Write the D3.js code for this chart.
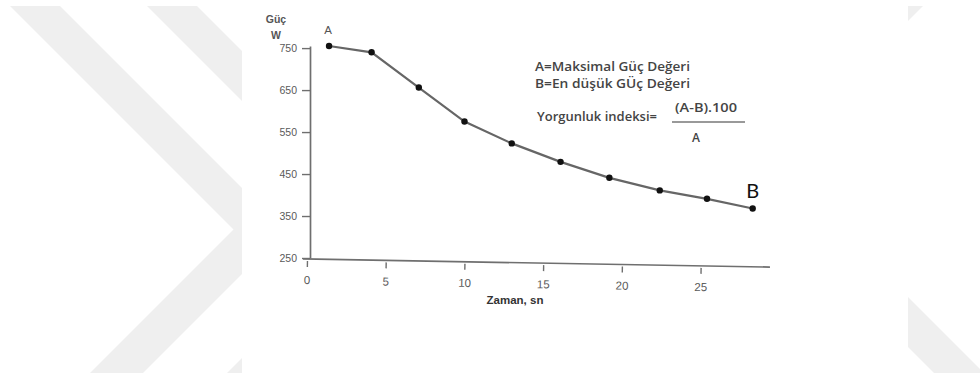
<!DOCTYPE html>
<html>
<head>
<meta charset="utf-8">
<script src="https://cdn.jsdelivr.net/npm/d3@7"></script>
<style>
  html, body { margin: 0; padding: 0; background: #fff; }
  svg { display: block; }
</style>
</head>
<body>
<svg id="chart" width="980" height="379"></svg>
<script>
// ---- data ----
const times = [1.4, 4.1, 7.1, 10.0, 13.0, 16.1, 19.2, 22.4, 25.4, 28.3];   // Zaman, sn
const power = [755, 740, 656, 575, 523, 479, 441, 411, 391, 368];          // Güç, W
const xTicks = [0, 5, 10, 15, 20, 25];
const yTicks = [250, 350, 450, 550, 650, 750];
const yAxisLabel = ["Güç", "W"];
const xAxisLabel = "Zaman, sn";
const noteLines = ["A=Maksimal Güç Değeri", "B=En düşük GÜç Değeri"];
const formulaLabel = "Yorgunluk indeksi=";
const formulaNum = "(A-B).100";
const formulaDen = "A";

const svg = d3.select("#chart");

// ---- background watermark chevrons ----
const wm = "#efefef";
const bgPolys = [
  [[10,6],[60,6],[285,231],[143,373],[90,373],[233.5,229.5]],
  [[147,6],[197,6],[420.5,229.5],[277,373],[227,373],[370.5,229.5]],
  [[908,6],[923,6],[908,21]],
  [[908,297],[980,369],[980,373],[934,373],[908,347]]
];
svg.selectAll("polygon.wm").data(bgPolys).join("polygon")
  .attr("class","wm")
  .attr("points", d => d.map(p => p.join(",")).join(" "))
  .attr("fill", wm);

// white picture area
svg.append("rect").attr("x",242).attr("y",0).attr("width",666).attr("height",379).attr("fill","#fff");

// ---- scales ----
const x = d3.scaleLinear().domain([0, 29.4]).range([307, 770]);
const y = d3.scaleLinear().domain([250, 755]).range([258, 46]);
const yAxisX = 310;

const tickFont = "'Liberation Sans', Arial, sans-serif";

// y axis
const gy = svg.append("g").attr("transform", `translate(${yAxisX},0)`)
  .call(d3.axisLeft(y).tickValues(yTicks).tickSize(8).tickSizeOuter(0).tickPadding(5).tickFormat(d3.format("d")));
gy.select(".domain").attr("stroke","#6f6f6f").attr("stroke-width",1.7);
gy.selectAll(".tick line").attr("stroke","#6f6f6f").attr("stroke-width",1.4);
gy.selectAll(".tick text").attr("fill","#5a5a5a").style("font-family",tickFont).style("font-size","10.5px");

// x axis (slightly tilted like the scanned original)
const gx = svg.append("g").attr("transform", `translate(0,259) rotate(1,${x(0)},0)`)
  .call(d3.axisBottom(x).tickValues(xTicks).tickSize(8).tickSizeOuter(0).tickPadding(9).tickFormat(d3.format("d")));
gx.select(".domain").attr("stroke","#6f6f6f").attr("stroke-width",1.7)
  .attr("d", `M${x(0)-4},0H${x(29.4)}`);
gx.selectAll(".tick line").attr("stroke","#6f6f6f").attr("stroke-width",1.4).attr("y1",2);
gx.selectAll(".tick text").attr("fill","#5a5a5a").style("font-family",tickFont).style("font-size","11.5px");

// axis titles
svg.append("text").attr("x",276).attr("y",23).attr("text-anchor","middle")
  .attr("fill","#555").style("font-family",tickFont).style("font-size","10.5px").style("font-weight","bold")
  .text(yAxisLabel[0]);
svg.append("text").attr("x",276).attr("y",39).attr("text-anchor","middle")
  .attr("fill","#555").style("font-family",tickFont).style("font-size","10.5px").style("font-weight","bold")
  .text(yAxisLabel[1]);
svg.append("text").attr("x",515).attr("y",304).attr("text-anchor","middle")
  .attr("fill","#333").style("font-family",tickFont).style("font-size","11.5px").style("font-weight","bold")
  .text(xAxisLabel);

// ---- line + points ----
const pts = times.map((t,i) => ({t, p: power[i]}));
svg.append("path").datum(pts)
  .attr("fill","none").attr("stroke","#666").attr("stroke-width",2.2)
  .attr("d", d3.line().x(d => x(d.t)).y(d => y(d.p)));
svg.selectAll("circle.pt").data(pts).join("circle")
  .attr("class","pt")
  .attr("cx", d => x(d.t)).attr("cy", d => y(d.p)).attr("r", 3.2)
  .attr("fill","#111");

// point labels
svg.append("text").attr("x", x(times[0])-1).attr("y", 34).attr("text-anchor","middle")
  .attr("fill","#555").style("font-family",tickFont).style("font-size","11.5px")
  .text("A");
svg.append("text").attr("x", x(times[times.length-1])).attr("y", 198).attr("text-anchor","middle")
  .attr("fill","#111").style("font-family","Lato, 'Open Sans', sans-serif").style("font-size","20px")
  .text("B");

// ---- annotation ----
const noteFont = "'Open Sans', Lato, sans-serif";
const noteWidths = [155, 155];
svg.selectAll("text.note").data(noteLines).join("text")
  .attr("class","note")
  .attr("x",535).attr("y",(d,i) => 71 + i*17)
  .attr("textLength",(d,i) => noteWidths[i]).attr("lengthAdjust","spacingAndGlyphs")
  .attr("fill","#444").style("font-family",noteFont).style("font-size","12.5px").style("font-weight","600")
  .text(d => d);
svg.append("text").attr("x",537).attr("y",121)
  .attr("textLength",120).attr("lengthAdjust","spacingAndGlyphs")
  .attr("fill","#444").style("font-family",noteFont).style("font-size","12.5px").style("font-weight","600")
  .text(formulaLabel);
svg.append("text").attr("x",675).attr("y",112)
  .attr("textLength",62).attr("lengthAdjust","spacingAndGlyphs")
  .attr("fill","#444").style("font-family",noteFont).style("font-size","12px").style("font-weight","600")
  .text(formulaNum);
svg.append("line").attr("x1",672).attr("x2",745).attr("y1",122).attr("y2",122)
  .attr("stroke","#777").attr("stroke-width",1.3);
svg.append("text").attr("x",696).attr("y",142).attr("text-anchor","middle")
  .attr("fill","#444").style("font-family",noteFont).style("font-size","12px").style("font-weight","600")
  .text(formulaDen);
</script>
</body>
</html>
